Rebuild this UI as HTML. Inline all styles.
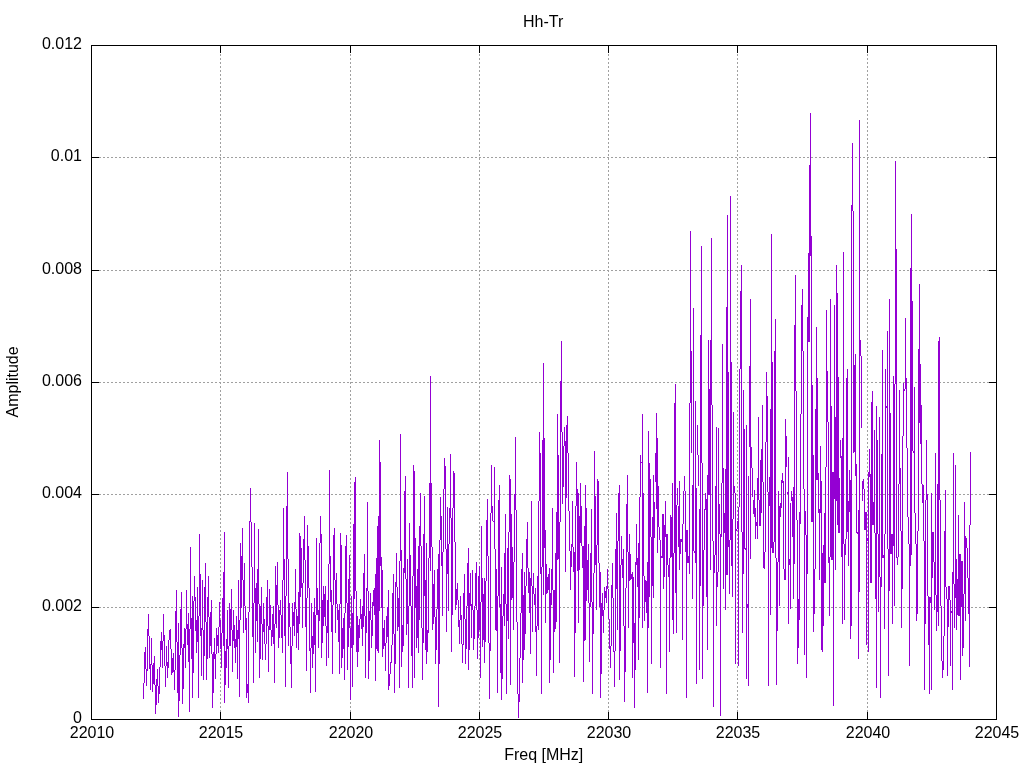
<!DOCTYPE html><html><head><meta charset="utf-8"><style>html,body{margin:0;padding:0;background:#fff;width:1024px;height:768px;overflow:hidden}</style></head><body><svg width="1024" height="768" viewBox="0 0 1024 768" style="position:absolute;left:0;top:0">
<rect width="1024" height="768" fill="#fff"/>
<g stroke="#a0a0a0" stroke-width="1" stroke-dasharray="2 2" fill="none"><line x1="91.0" y1="607.5" x2="997.0" y2="607.5"/><line x1="91.0" y1="494.5" x2="997.0" y2="494.5"/><line x1="91.0" y1="382.5" x2="997.0" y2="382.5"/><line x1="91.0" y1="270.5" x2="997.0" y2="270.5"/><line x1="91.0" y1="157.5" x2="997.0" y2="157.5"/><line x1="220.5" y1="720.0" x2="220.5" y2="45.0"/><line x1="350.5" y1="720.0" x2="350.5" y2="45.0"/><line x1="479.5" y1="720.0" x2="479.5" y2="45.0"/><line x1="608.5" y1="720.0" x2="608.5" y2="45.0"/><line x1="737.5" y1="720.0" x2="737.5" y2="45.0"/><line x1="867.5" y1="720.0" x2="867.5" y2="45.0"/></g>
<path d="M143.5 683V699M144.5 652V683M145.5 647V669M146.5 669V686M147.5 629V671M148.5 614V636M149.5 636V669M150.5 664V690M151.5 638V665M152.5 665V692M153.5 663V684M154.5 656V685M155.5 685V714M156.5 679V705M157.5 669V686M158.5 686V703M159.5 667V694M160.5 641V667M161.5 632V650M162.5 641V668M163.5 614V641M164.5 635V666M165.5 666V687M166.5 646V666M167.5 662V678M168.5 640V668M169.5 630V640M170.5 629V649M171.5 649V675M172.5 658V673M173.5 653V672M174.5 670V690M175.5 611V670M176.5 590V642M177.5 642V693M178.5 623V717M179.5 655V701M180.5 609V655M181.5 592V648M182.5 648V704M183.5 644V689M184.5 628V648M185.5 629V668M186.5 590V629M187.5 624V645M188.5 613V662M189.5 629V712M190.5 547V629M191.5 618V659M192.5 596V698M193.5 601V673M194.5 576V601M195.5 597V631M196.5 620V653M197.5 587V642M198.5 616V698M199.5 534V616M200.5 574V636M201.5 628V676M202.5 580V630M203.5 630V680M204.5 587V656M205.5 563V622M206.5 622V680M207.5 597V659M208.5 576V617M209.5 617V658M210.5 612V646M211.5 600V654M212.5 654V708M213.5 652V693M214.5 638V659M215.5 654V679M216.5 628V654M217.5 635V646M218.5 627V653M219.5 602V627M220.5 620V649M221.5 633V668M222.5 598V633M223.5 572V646M224.5 532V703M225.5 651V685M226.5 639V668M227.5 610V649M228.5 646V688M229.5 603V646M230.5 609V646M231.5 589V630M232.5 630V672M233.5 610V641M234.5 625V648M235.5 639V663M236.5 616V647M237.5 630V679M238.5 580V639M239.5 620V697M240.5 543V620M241.5 556V608M242.5 528V580M243.5 580V633M244.5 563V606M245.5 606V630M246.5 618V698M247.5 684V693M248.5 612V703M249.5 521V612M250.5 488V522M251.5 522V567M252.5 567V637M253.5 603V683M254.5 523V603M255.5 588V653M256.5 583V621M257.5 569V642M258.5 529V604M259.5 604V678M260.5 606V659M261.5 587V624M262.5 624V660M263.5 603V632M264.5 619V644M265.5 644V660M266.5 597V644M267.5 580V626M268.5 626V672M269.5 589V630M270.5 605V630M271.5 630V646M272.5 614V637M273.5 606V644M274.5 624V683M275.5 566V624M276.5 585V628M277.5 562V605M278.5 605V648M279.5 610V638M280.5 600V615M281.5 615V638M282.5 580V653M283.5 508V580M284.5 559V636M285.5 596V687M286.5 506V596M287.5 472V559M288.5 559V646M289.5 603V627M290.5 627V664M291.5 646V688M292.5 603V646M293.5 612V626M294.5 602V636M295.5 569V609M296.5 609V648M297.5 616V633M298.5 592V650M299.5 533V624M300.5 536V597M301.5 548V588M302.5 583V628M303.5 539V583M304.5 516V560M305.5 560V627M306.5 598V671M307.5 525V598M308.5 546V588M309.5 588V651M310.5 648V693M311.5 603V648M312.5 636V668M313.5 612V654M314.5 598V645M315.5 615V692M316.5 538V615M317.5 588V615M318.5 610V648M319.5 543V621M320.5 516V543M321.5 534V658M322.5 600V643M323.5 586V626M324.5 594V617M325.5 586V626M326.5 626V666M327.5 600V633M328.5 564V658M329.5 470V564M330.5 556V602M331.5 590V632M332.5 605V674M333.5 535V605M334.5 528V580M335.5 580V633M336.5 573V604M337.5 604V620M338.5 610V642M339.5 604V674M340.5 533V604M341.5 545V668M342.5 628V658M343.5 618V649M344.5 613V680M345.5 546V613M346.5 535V603M347.5 603V670M348.5 579V647M349.5 555V628M350.5 628V700M351.5 596V648M352.5 613V687M353.5 524V645M354.5 482V599M355.5 477V591M356.5 591V652M357.5 616V667M358.5 625V652M359.5 619V638M360.5 599V619M361.5 614V629M362.5 606V646M363.5 573V627M364.5 554V616M365.5 616V678M366.5 588V633M367.5 502V591M368.5 591V679M369.5 611V661M370.5 593V620M371.5 620V648M372.5 602V636M373.5 590V606M374.5 588V615M375.5 574V681M376.5 558V649M377.5 526V651M378.5 516V653M379.5 440V611M380.5 462V566M381.5 557V608M382.5 570V657M383.5 628V649M384.5 620V646M385.5 643V671M386.5 616V643M387.5 607V637M388.5 590V690M389.5 674V686M390.5 662V674M391.5 645V663M392.5 593V645M393.5 574V634M394.5 634V693M395.5 582V664M396.5 553V587M397.5 587V631M398.5 598V627M399.5 561V688M400.5 434V561M401.5 550V667M402.5 625V652M403.5 568V646M404.5 491V573M405.5 476V579M406.5 579V635M407.5 559V624M408.5 606V688M409.5 523V606M410.5 555V606M411.5 606V656M412.5 576V688M413.5 465V576M414.5 471V678M415.5 538V608M416.5 586V648M417.5 569V638M418.5 546V653M419.5 526V620M420.5 493V546M421.5 546V628M422.5 628V680M423.5 534V643M424.5 496V596M425.5 580V650M426.5 543V664M427.5 630V652M428.5 558V633M429.5 483V558M430.5 376V571M431.5 483V547M432.5 547V630M433.5 584V624M434.5 570V617M435.5 617V664M436.5 609V650M437.5 569V609M438.5 554V707M439.5 540V664M440.5 497V540M441.5 516V566M442.5 552V616M443.5 489V552M444.5 458V489M445.5 466V549M446.5 549V632M447.5 507V574M448.5 544V611M449.5 508V544M450.5 454V518M451.5 518V652M452.5 508V615M453.5 471V508M454.5 473V542M455.5 542V610M456.5 589V605M457.5 583V600M458.5 600V627M459.5 620V644M460.5 596V620M461.5 615V644M462.5 644V663M463.5 593V645M464.5 574V619M465.5 619V664M466.5 606V649M467.5 563V606M468.5 548V670M469.5 593V650M470.5 573V606M471.5 604V638M472.5 570V610M473.5 610V650M474.5 606V639M475.5 573V606M476.5 562V610M477.5 610V659M478.5 576V638M479.5 566V630M480.5 602V678M481.5 526V602M482.5 578V647M483.5 594V640M484.5 578V663M485.5 581V642M486.5 520V581M487.5 499V556M488.5 556V643M489.5 643V699M490.5 513V651M491.5 465V513M492.5 506V521M493.5 521V522M494.5 467V549M495.5 549V630M496.5 569V631M497.5 596V693M498.5 500V596M499.5 485V607M500.5 604V673M501.5 567V700M502.5 616V679M503.5 594V616M504.5 553V626M505.5 514V604M506.5 604V694M507.5 548V621M508.5 532V639M509.5 475V532M510.5 479V685M511.5 514V600M512.5 547V598M513.5 562V630M514.5 494V562M515.5 437V510M516.5 510V622M517.5 622V694M518.5 694V718M519.5 658V702M520.5 613V658M521.5 569V613M522.5 553V683M523.5 595V660M524.5 572V650M525.5 586V634M526.5 539V586M527.5 522V568M528.5 568V593M529.5 572V613M530.5 578V654M531.5 501V586M532.5 586V632M533.5 573V594M534.5 594V605M535.5 588V632M536.5 626V676M537.5 576V626M538.5 501V630M539.5 432V501M540.5 453V574M541.5 567V694M542.5 440V567M543.5 363V595M544.5 438V548M545.5 530V623M546.5 564V594M547.5 577V593M548.5 574V590M549.5 568V683M550.5 593V660M551.5 569V605M552.5 508V590M553.5 590V673M554.5 590V632M555.5 553V629M556.5 512V622M557.5 414V560M558.5 455V559M559.5 522V663M560.5 381V522M561.5 341V432M562.5 432V504M563.5 446V487M564.5 427V446M565.5 441V572M566.5 425V498M567.5 416V453M568.5 453V511M569.5 511V551M570.5 551V590M571.5 544V567M572.5 501V547M573.5 547V572M574.5 552V677M575.5 506V633M576.5 462V506M577.5 489V571M578.5 493V623M579.5 516V570M580.5 483V543M581.5 506V546M582.5 546V568M583.5 546V682M584.5 526V641M585.5 485V640M586.5 508V601M587.5 560V590M588.5 544V603M589.5 603V662M590.5 553V607M591.5 509V602M592.5 602V694M593.5 573V634M594.5 451V573M595.5 496V565M596.5 545V610M597.5 479V545M598.5 481V563M599.5 563V607M600.5 572V698M601.5 603V674M602.5 593V616M603.5 610V633M604.5 587V610M605.5 591V598M606.5 586V603M607.5 569V589M608.5 589V619M609.5 619V649M610.5 646V668M611.5 585V646M612.5 563V598M613.5 598V652M614.5 651V687M615.5 549V651M616.5 513V589M617.5 541V630M618.5 493V541M619.5 485V680M620.5 565V651M621.5 536V565M622.5 559V578M623.5 549V626M624.5 626V702M625.5 588V672M626.5 504V588M627.5 475V552M628.5 552V628M629.5 534V581M630.5 554V580M631.5 574V579M632.5 572V678M633.5 577V643M634.5 623V708M635.5 562V670M636.5 524V565M637.5 558V587M638.5 543V660M639.5 497V618M640.5 455V497M641.5 462V463M642.5 414V628M643.5 493V576M644.5 576V621M645.5 580V602M646.5 581V613M647.5 562V693M648.5 431V628M649.5 463V597M650.5 479V537M651.5 537V664M652.5 517V586M653.5 475V598M654.5 502V538M655.5 453V482M656.5 413V509M657.5 438V553M658.5 486V527M659.5 527V540M660.5 540V668M661.5 556V558M662.5 514V558M663.5 514V589M664.5 525V577M665.5 501V537M666.5 534V694M667.5 534V565M668.5 565V577M669.5 558V652M670.5 515V558M671.5 517V557M672.5 483V620M673.5 553V634M674.5 403V553M675.5 384V593M676.5 505V633M677.5 488V505M678.5 506V547M679.5 481V570M680.5 539V554M681.5 539V542M682.5 524V640M683.5 491V524M684.5 476V491M685.5 491V552M686.5 530V698M687.5 530V563M688.5 556V563M689.5 403V574M690.5 231V403M691.5 351V453M692.5 485V599M693.5 308V551M694.5 551V553M695.5 401V563M696.5 488V684M697.5 425V455M698.5 455V486M699.5 509V670M700.5 335V586M701.5 246V463M702.5 463V679M703.5 550V606M704.5 509V550M705.5 493V510M706.5 499V597M707.5 475V650M708.5 340V495M709.5 389V495M710.5 340V570M711.5 238V405M712.5 405V541M713.5 541V707M714.5 555V573M715.5 486V555M716.5 427V626M717.5 572V587M718.5 428V572M719.5 504V534M720.5 534V716M721.5 483V537M722.5 344V483M723.5 468V589M724.5 513V533M725.5 469V610M726.5 307V575M727.5 215V575M728.5 372V547M729.5 540V594M730.5 196V540M731.5 362V566M732.5 519V597M733.5 412V519M734.5 486V493M735.5 493V664M736.5 529V531M737.5 521V529M738.5 507V666M739.5 369V507M740.5 291V369M741.5 265V532M742.5 532V633M743.5 390V574M744.5 429V549M745.5 548V550M746.5 425V679M747.5 604V608M748.5 476V686M749.5 366V447M750.5 299V559M751.5 447V468M752.5 468V497M753.5 500V514M754.5 490V517M755.5 508V539M756.5 522V526M757.5 478V539M758.5 417V500M759.5 500V526M760.5 460V526M761.5 449V513M762.5 405V482M763.5 482V568M764.5 552V569M765.5 442V552M766.5 372V442M767.5 396V492M768.5 492V686M769.5 477V506M770.5 409V615M771.5 234V548M772.5 362V553M773.5 542V553M774.5 351V542M775.5 319V558M776.5 558V685M777.5 562V631M778.5 491V562M779.5 506V606M780.5 503V517M781.5 480V508M782.5 473V483M783.5 481V569M784.5 569V580M785.5 419V580M786.5 436V467M787.5 492V494M788.5 457V624M789.5 559V565M790.5 503V609M791.5 491V501M792.5 497V537M793.5 487V599M794.5 325V564M795.5 275V391M796.5 391V520M797.5 520V664M798.5 599V648M799.5 512V620M800.5 414V524M801.5 305V414M802.5 289V351M803.5 351V489M804.5 489V655M805.5 511V535M806.5 535V678M807.5 317V574M808.5 253V342M809.5 165V342M810.5 113V256M811.5 236V522M812.5 385V522M813.5 455V632M814.5 569V614M815.5 409V569M816.5 327V480M817.5 378V480M818.5 473V513M819.5 509V580M820.5 446V513M821.5 481V650M822.5 553V652M823.5 545V626M824.5 513V583M825.5 467V583M826.5 310V467M827.5 371V422M828.5 422V563M829.5 557V616M830.5 299V557M831.5 406V560M832.5 472V560M833.5 472V706M834.5 305V499M835.5 417V570M836.5 265V501M837.5 293V525M838.5 377V533M839.5 478V533M840.5 440V458M841.5 456V557M842.5 438V624M843.5 252V544M844.5 544V620M845.5 539V555M846.5 378V539M847.5 369V532M848.5 501V566M849.5 470V512M850.5 480V639M851.5 205V626M852.5 143V211M853.5 211V453M854.5 365V452M855.5 354V476M856.5 464V533M857.5 532V534M858.5 510V659M859.5 120V592M860.5 340V356M861.5 356V428M862.5 481V501M863.5 479V489M864.5 489V530M865.5 512V530M866.5 512V645M867.5 538V541M868.5 472V652M869.5 449V477M870.5 474V583M871.5 402V583M872.5 391V525M873.5 502V525M874.5 430V533M875.5 533V599M876.5 406V688M877.5 440V534M878.5 534V612M879.5 417V577M880.5 577V698M881.5 454V587M882.5 350V558M883.5 555V558M884.5 534V629M885.5 369V534M886.5 406V408M887.5 331V549M888.5 549V676M889.5 299V591M890.5 413V554M891.5 534V554M892.5 534V624M893.5 376V546M894.5 384V606M895.5 161V384M896.5 249V558M897.5 557V565M898.5 484V557M899.5 390V484M900.5 468V531M901.5 531V628M902.5 436V589M903.5 383V436M904.5 389V391M905.5 318V389M906.5 378V448M907.5 448V517M908.5 517V544M909.5 544V666M910.5 268V566M911.5 214V555M912.5 301V451M913.5 451V453M914.5 387V513M915.5 513V544M916.5 544V621M917.5 531V614M918.5 349V531M919.5 284V423M920.5 364V444M921.5 405V484M922.5 484V503M923.5 485V541M924.5 541V690M925.5 500V624M926.5 440V500M927.5 494V596M928.5 596V645M929.5 597V694M930.5 597V603M931.5 493V690M932.5 532V578M933.5 532V562M934.5 562V610M935.5 453V595M936.5 595V631M937.5 484V612M938.5 341V626M939.5 337V500M940.5 500V606M941.5 606V661M942.5 661V678M943.5 636V670M944.5 531V636M945.5 490V587M946.5 587V599M947.5 599V676M948.5 586V627M949.5 586V600M950.5 600V666M951.5 611V613M952.5 572V690M953.5 453V584M954.5 584V628M955.5 465V598M956.5 559V630M957.5 579V615M958.5 515V616M959.5 554V616M960.5 554V680M961.5 561V607M962.5 561V656M963.5 594V648M964.5 502V594M965.5 536V621M966.5 538V548M967.5 548V578M968.5 578V614M969.5 525V667M970.5 452V525" stroke="#9400d3" stroke-width="1" fill="none" shape-rendering="crispEdges"/>
<g stroke="#000" stroke-width="1" fill="none"><line x1="91.5" y1="719.5" x2="99.0" y2="719.5"/><line x1="996.5" y1="719.5" x2="989.0" y2="719.5"/><line x1="91.5" y1="607.5" x2="99.0" y2="607.5"/><line x1="996.5" y1="607.5" x2="989.0" y2="607.5"/><line x1="91.5" y1="494.5" x2="99.0" y2="494.5"/><line x1="996.5" y1="494.5" x2="989.0" y2="494.5"/><line x1="91.5" y1="382.5" x2="99.0" y2="382.5"/><line x1="996.5" y1="382.5" x2="989.0" y2="382.5"/><line x1="91.5" y1="270.5" x2="99.0" y2="270.5"/><line x1="996.5" y1="270.5" x2="989.0" y2="270.5"/><line x1="91.5" y1="157.5" x2="99.0" y2="157.5"/><line x1="996.5" y1="157.5" x2="989.0" y2="157.5"/><line x1="91.5" y1="45.5" x2="99.0" y2="45.5"/><line x1="996.5" y1="45.5" x2="989.0" y2="45.5"/><line x1="91.5" y1="719.5" x2="91.5" y2="712.0"/><line x1="91.5" y1="45.5" x2="91.5" y2="53.0"/><line x1="220.5" y1="719.5" x2="220.5" y2="712.0"/><line x1="220.5" y1="45.5" x2="220.5" y2="53.0"/><line x1="350.5" y1="719.5" x2="350.5" y2="712.0"/><line x1="350.5" y1="45.5" x2="350.5" y2="53.0"/><line x1="479.5" y1="719.5" x2="479.5" y2="712.0"/><line x1="479.5" y1="45.5" x2="479.5" y2="53.0"/><line x1="608.5" y1="719.5" x2="608.5" y2="712.0"/><line x1="608.5" y1="45.5" x2="608.5" y2="53.0"/><line x1="737.5" y1="719.5" x2="737.5" y2="712.0"/><line x1="737.5" y1="45.5" x2="737.5" y2="53.0"/><line x1="867.5" y1="719.5" x2="867.5" y2="712.0"/><line x1="867.5" y1="45.5" x2="867.5" y2="53.0"/><line x1="996.5" y1="719.5" x2="996.5" y2="712.0"/><line x1="996.5" y1="45.5" x2="996.5" y2="53.0"/><rect x="91.5" y="45.5" width="905.0" height="674.0"/></g>
</svg>
<svg width="1024" height="768" viewBox="0 0 1024 768" style="position:absolute;left:0;top:0;will-change:transform"><g font-family="Liberation Sans, sans-serif" font-size="16" fill="#000"><text x="82" y="723.3" text-anchor="end">0</text><text x="82" y="611.3" text-anchor="end">0.002</text><text x="82" y="498.3" text-anchor="end">0.004</text><text x="82" y="386.3" text-anchor="end">0.006</text><text x="82" y="274.3" text-anchor="end">0.008</text><text x="82" y="161.3" text-anchor="end">0.01</text><text x="82" y="49.3" text-anchor="end">0.012</text><text x="92.0" y="738.3" text-anchor="middle">22010</text><text x="221.0" y="738.3" text-anchor="middle">22015</text><text x="351.0" y="738.3" text-anchor="middle">22020</text><text x="480.0" y="738.3" text-anchor="middle">22025</text><text x="609.0" y="738.3" text-anchor="middle">22030</text><text x="738.0" y="738.3" text-anchor="middle">22035</text><text x="868.0" y="738.3" text-anchor="middle">22040</text><text x="997.0" y="738.3" text-anchor="middle">22045</text><text x="543.2" y="26.8" text-anchor="middle">Hh-Tr</text><text x="543.7" y="759.8" text-anchor="middle">Freq [MHz]</text><text transform="translate(17.9,381.9) rotate(-90)" text-anchor="middle">Amplitude</text></g></svg></body></html>
